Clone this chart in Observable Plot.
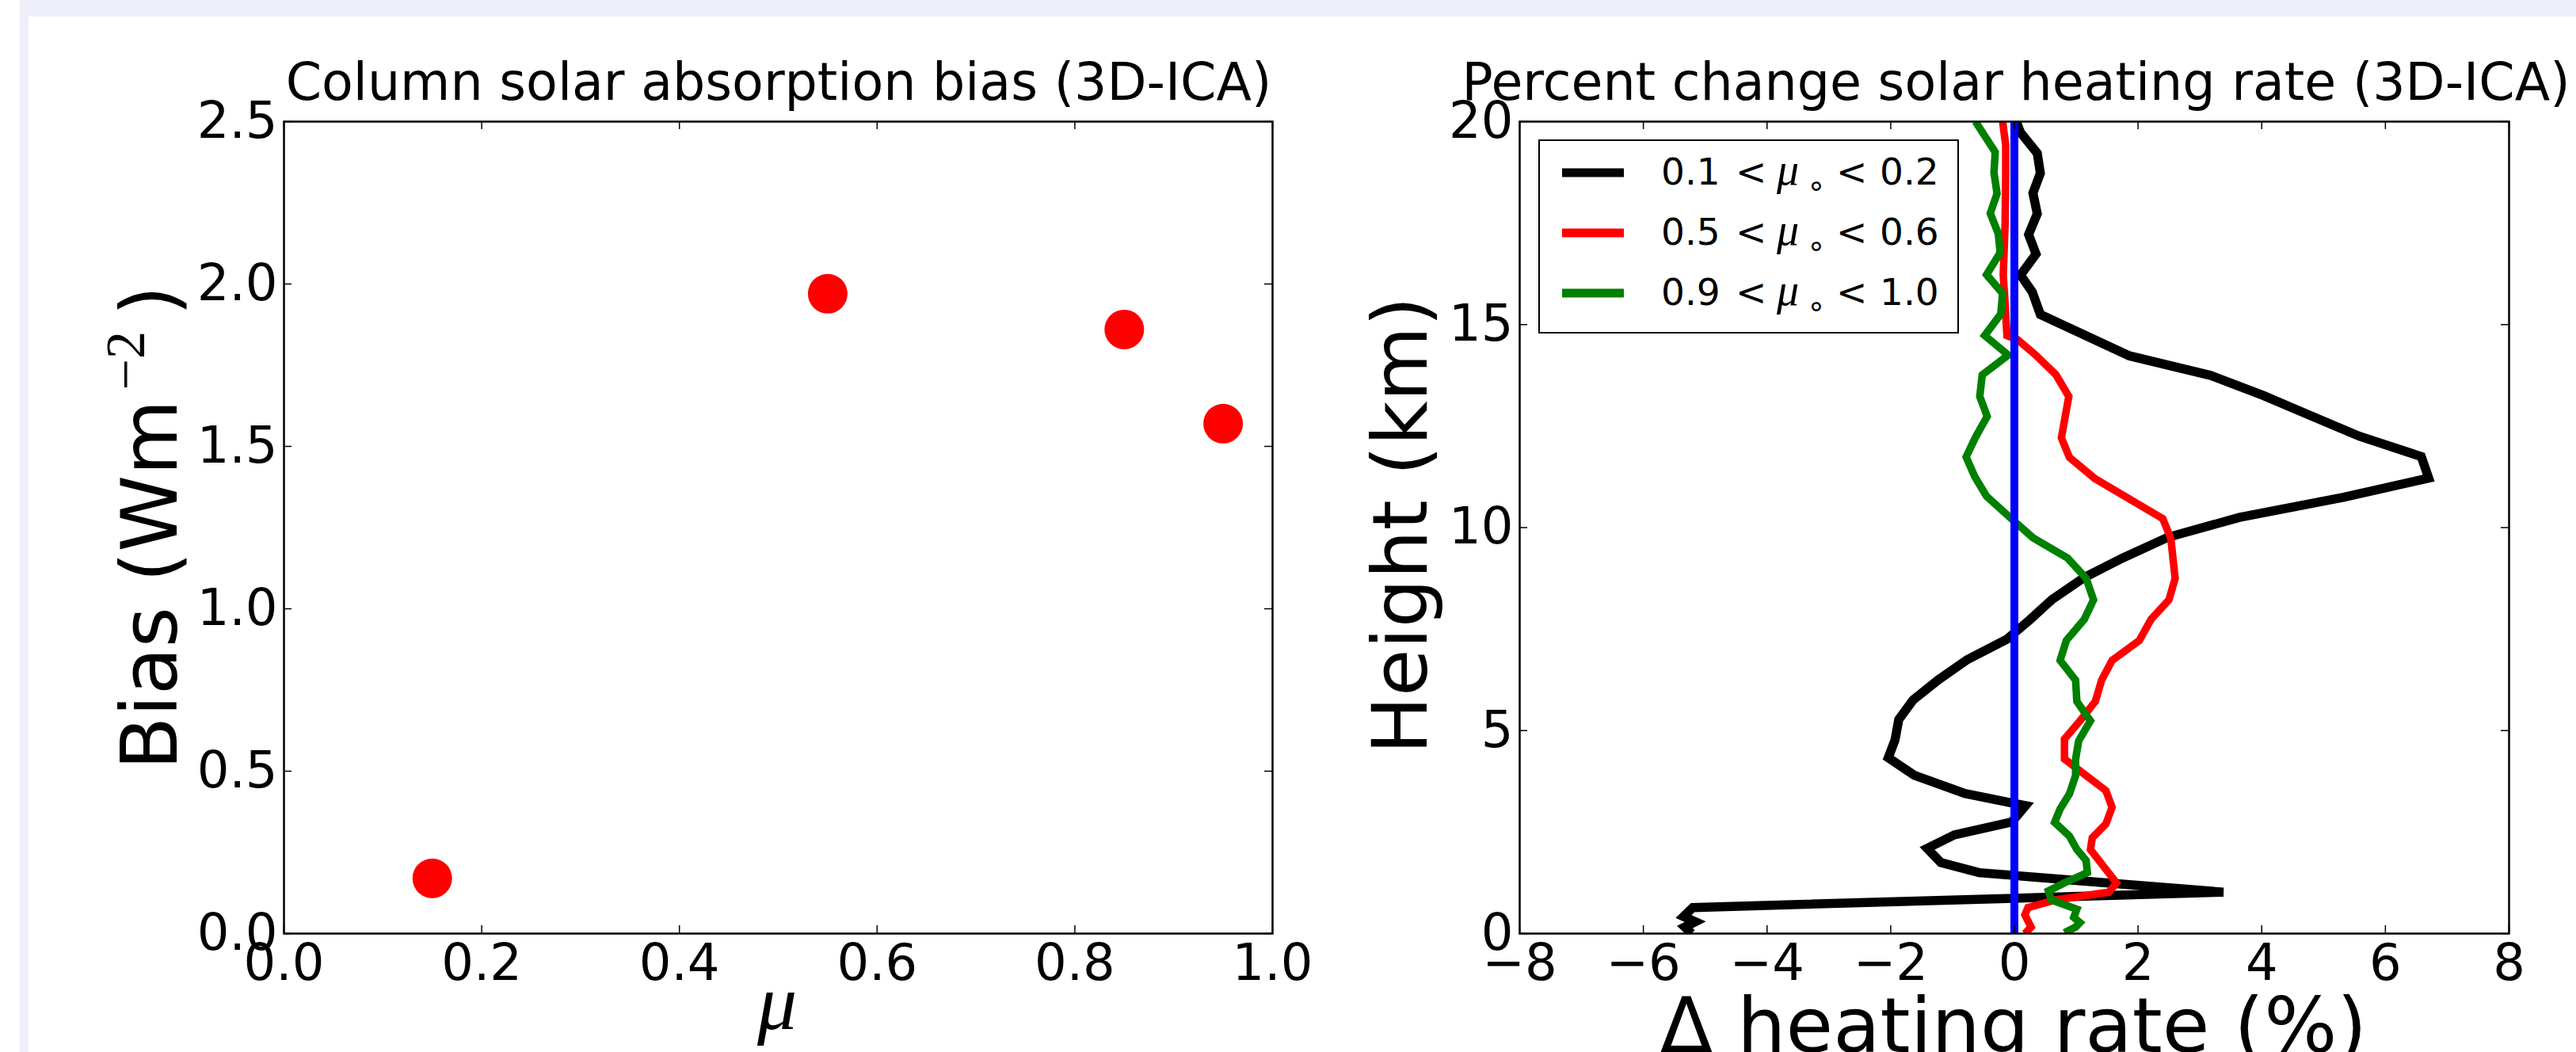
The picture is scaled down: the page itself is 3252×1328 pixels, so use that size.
<!DOCTYPE html>
<html>
<head>
<meta charset="utf-8">
<script src="https://cdn.jsdelivr.net/npm/d3@7"></script>
<script src="https://cdn.jsdelivr.net/npm/@observablehq/plot@0.6"></script>
<style>
  html, body { margin: 0; padding: 0; background: #ffffff; }
  #fig { position: relative; width: 3252px; height: 1328px; overflow: hidden; background: #ffffff; font-family: "DejaVu Sans", sans-serif; }
  .band { position: absolute; background: #efeffa; }
</style>
</head>
<body>
<div id="fig">
  <div class="band" style="left:25px;top:0;width:11px;height:1328px;"></div>
  <div class="band" style="left:25px;top:0;width:3227px;height:21px;"></div>
</div>
<script>
// ---------------- data ----------------
// Left panel: column solar absorption bias vs mu
const muValues   = [0.15, 0.55, 0.85, 0.95];
const biasValues = [0.17, 1.97, 1.86, 1.57];
const leftXTicks = [0.0, 0.2, 0.4, 0.6, 0.8, 1.0];
const leftYTicks = [0.0, 0.5, 1.0, 1.5, 2.0, 2.5];

// Right panel: percent change in solar heating rate vs height
const rightXTicks = [-8, -6, -4, -2, 0, 2, 4, 6, 8];
const rightYTicks = [0, 5, 10, 15, 20];

const blackHeight = [0.00, 0.16, 0.29, 0.42, 0.64, 1.02, 1.50, 1.75, 2.10, 2.43, 2.75, 3.15, 3.45, 3.90, 4.33, 4.77, 5.27, 5.75, 6.25, 6.75, 7.25, 7.73, 8.23, 8.77, 9.25, 9.76, 10.25, 10.75, 11.22, 11.75, 12.25, 12.75, 13.25, 13.75, 14.23, 15.25, 15.80, 16.22, 16.74, 17.22, 17.73, 18.24, 18.73, 19.22, 19.73, 20.00];
const blackDelta  = [-5.22, -5.33, -5.16, -5.35, -5.20, 3.38, -0.57, -1.19, -1.41, -0.97, -0.04, 0.18, -0.80, -1.62, -2.04, -1.93, -1.87, -1.64, -1.23, -0.76, -0.12, 0.25, 0.61, 1.13, 1.75, 2.48, 3.64, 5.33, 6.70, 6.58, 5.58, 4.80, 4.03, 3.17, 1.86, 0.42, 0.29, 0.10, 0.35, 0.23, 0.37, 0.30, 0.42, 0.37, 0.10, 0.03];

const redHeight = [0.00, 0.16, 0.46, 0.64, 0.83, 1.02, 1.25, 2.07, 2.36, 2.70, 3.11, 3.52, 4.30, 4.79, 5.24, 5.72, 6.24, 6.73, 7.22, 7.74, 8.22, 8.75, 9.73, 10.22, 11.21, 11.73, 12.21, 13.23, 13.77, 14.27, 14.63, 14.73, 15.75, 16.22, 17.50, 18.75, 19.41, 20.00];
const redDelta  = [0.17, 0.27, 0.17, 0.22, 0.67, 1.53, 1.65, 1.23, 1.26, 1.48, 1.58, 1.48, 0.81, 0.81, 1.06, 1.31, 1.41, 1.58, 2.02, 2.21, 2.50, 2.60, 2.53, 2.40, 1.30, 0.89, 0.76, 0.88, 0.67, 0.33, 0.05, -0.12, -0.16, -0.18, -0.15, -0.14, -0.14, -0.19];

const greenHeight = [0.02, 0.16, 0.27, 0.40, 0.60, 0.83, 1.05, 1.25, 1.50, 1.80, 2.07, 2.40, 2.74, 3.07, 3.44, 3.89, 4.30, 4.75, 5.24, 5.72, 6.24, 6.73, 7.22, 7.74, 8.22, 8.75, 9.25, 9.75, 10.25, 10.77, 11.25, 11.74, 12.22, 12.74, 13.23, 13.76, 14.25, 14.73, 15.26, 15.77, 16.23, 16.77, 17.24, 17.74, 18.23, 18.74, 19.25, 20.00];
const greenDelta  = [0.81, 0.99, 1.06, 0.96, 1.01, 0.60, 0.55, 0.81, 1.18, 1.16, 1.01, 0.89, 0.65, 0.74, 0.89, 0.99, 0.99, 1.04, 1.23, 1.01, 0.99, 0.74, 0.84, 1.13, 1.28, 1.16, 0.86, 0.30, -0.07, -0.45, -0.64, -0.78, -0.63, -0.44, -0.56, -0.52, -0.10, -0.48, -0.22, -0.19, -0.45, -0.23, -0.26, -0.39, -0.28, -0.33, -0.31, -0.63];

const blueHeight = [0, 20];
const blueDelta  = [0, 0];

const legendLabels = ["0.1", "0.2", "0.5", "0.6", "0.9", "1.0"];
const seriesColors = ["black", "red", "green"];

// ---------------- helpers ----------------
const fig = document.getElementById("fig");
function place(el, left, top) {
  el.style.position = "absolute";
  el.style.left = left + "px";
  el.style.top = top + "px";
  fig.appendChild(el);
}
const toRows = (hs, vs) => hs.map((h, i) => ({h, v: vs[i]}));
const TICK = 10;
const tickStyle = {stroke: "black", strokeWidth: 1.5};
const baseStyle = {background: "transparent", fontFamily: "DejaVu Sans", overflow: "visible", color: "black"};

// ---------------- left panel ----------------
const L = {w: 1650, h: 1328, ml: 358, mr: 44, mt: 153, mb: 150};
const LiW = L.w - L.ml - L.mr, LiH = L.h - L.mt - L.mb;
const biasRows = muValues.map((m, i) => ({mu: m, bias: biasValues[i]}));
const leftPlot = Plot.plot({
  width: L.w, height: L.h,
  marginLeft: L.ml, marginRight: L.mr, marginTop: L.mt, marginBottom: L.mb,
  x: {domain: [0, 1]},
  y: {domain: [0, 2.5]},
  style: baseStyle,
  marks: [
    Plot.dot(biasRows, {x: "mu", y: "bias", r: 25, fill: "red", stroke: "none"}),
    Plot.tickX(leftXTicks, {x: d => d, insetTop: LiH - TICK, ...tickStyle}),
    Plot.tickX(leftXTicks, {x: d => d, insetBottom: LiH - TICK, ...tickStyle}),
    Plot.tickY(leftYTicks, {y: d => d, insetRight: LiW - TICK, ...tickStyle}),
    Plot.tickY(leftYTicks, {y: d => d, insetLeft: LiW - TICK, ...tickStyle}),
    Plot.frame({stroke: "black", strokeWidth: 2.5}),
    Plot.axisX({anchor: "bottom", ticks: leftXTicks, tickSize: 0, tickPadding: 13, fontSize: 64, tickFormat: d3.format(".1f"), label: null}),
    Plot.axisY({anchor: "left", ticks: leftYTicks, tickSize: 0, tickPadding: 8, fontSize: 64, tickFormat: d3.format(".1f"), label: null})
  ]
});
place(leftPlot, 0, 0);

// ---------------- right panel ----------------
const R = {w: 1602, h: 1328, ml: 268, mr: 85, mt: 153, mb: 150};
const RiW = R.w - R.ml - R.mr, RiH = R.h - R.mt - R.mb;
const lineOpts = {x: "v", y: "h", clip: true, strokeLinejoin: "miter", strokeLinecap: "butt", strokeMiterlimit: 4};
const rightPlot = Plot.plot({
  width: R.w, height: R.h,
  marginLeft: R.ml, marginRight: R.mr, marginTop: R.mt, marginBottom: R.mb,
  x: {domain: [-8, 8]},
  y: {domain: [0, 20]},
  style: baseStyle,
  marks: [
    Plot.line(toRows(blackHeight, blackDelta), {...lineOpts, stroke: "black", strokeWidth: 11.5}),
    Plot.line(toRows(redHeight, redDelta), {...lineOpts, stroke: "#ff0000", strokeWidth: 9.5}),
    Plot.line(toRows(greenHeight, greenDelta), {...lineOpts, stroke: "#008000", strokeWidth: 9.5}),
    Plot.line(toRows(blueHeight, blueDelta), {...lineOpts, stroke: "#0000ff", strokeWidth: 10}),
    Plot.tickX(rightXTicks, {x: d => d, insetTop: RiH - TICK, ...tickStyle}),
    Plot.tickX(rightXTicks, {x: d => d, insetBottom: RiH - TICK, ...tickStyle}),
    Plot.tickY(rightYTicks, {y: d => d, insetRight: RiW - TICK, ...tickStyle}),
    Plot.tickY(rightYTicks, {y: d => d, insetLeft: RiW - TICK, ...tickStyle}),
    Plot.frame({stroke: "black", strokeWidth: 2.5}),
    Plot.axisX({anchor: "bottom", ticks: rightXTicks, tickSize: 0, tickPadding: 13, fontSize: 64, tickFormat: d3.format("d"), label: null}),
    Plot.axisY({anchor: "left", ticks: rightYTicks, tickSize: 0, tickPadding: 8, fontSize: 64, tickFormat: d3.format("d"), label: null})
  ]
});
place(rightPlot, 1650, 0);

// ---------------- titles, axis labels, legend ----------------
const ov = d3.create("svg")
  .attr("width", 3252).attr("height", 1328)
  .style("font-family", "DejaVu Sans")
  .style("pointer-events", "none");

// titles
ov.append("text").attr("x", 983).attr("y", 126).attr("text-anchor", "middle")
  .attr("font-size", 65).text("Column solar absorption bias (3D-ICA)");
ov.append("text").attr("x", 2545).attr("y", 126).attr("text-anchor", "middle")
  .attr("font-size", 65).text("Percent change solar heating rate (3D-ICA)");

// left y label
const yl = ov.append("text").attr("transform", "translate(223,666) rotate(-90)")
  .attr("text-anchor", "middle").attr("font-size", 98);
yl.append("tspan").text("Bias (Wm");
yl.append("tspan").attr("font-family", "Liberation Serif").attr("font-size", 70).attr("dx", 12).attr("dy", -41).text("\u22122");
yl.append("tspan").attr("dy", 41).text("\u2009)");

// left x label
ov.append("text").attr("x", 981).attr("y", 1299).attr("text-anchor", "middle")
  .attr("font-family", "Liberation Serif").attr("font-style", "italic").attr("font-size", 100).text("\u03bc");

// right y label
ov.append("text").attr("transform", "translate(1801,663) rotate(-90)")
  .attr("text-anchor", "middle").attr("font-size", 97).text("Height (km)");

// right x label
ov.append("text").attr("x", 2542).attr("y", 1328).attr("text-anchor", "middle")
  .attr("font-size", 97).text("\u0394 heating rate (%)");

// legend
ov.append("rect").attr("x", 1943).attr("y", 177).attr("width", 529).attr("height", 243)
  .attr("fill", "white").attr("stroke", "black").attr("stroke-width", 2);
seriesColors.forEach((c, i) => {
  const base = 233 + i * 76;
  ov.append("line").attr("x1", 1972).attr("x2", 2050).attr("y1", base - 15).attr("y2", base - 15)
    .attr("stroke", c).attr("stroke-width", 11);
  const g = ov.append("g").attr("font-size", 47);
  g.append("text").attr("x", 2097).attr("y", base).text(legendLabels[2 * i]);
  g.append("text").attr("x", 2191).attr("y", base).text("<");
  g.append("text").attr("x", 2243).attr("y", base).attr("font-family", "Liberation Serif")
    .attr("font-style", "italic").attr("font-size", 56).text("\u03bc");
  g.append("text").attr("x", 2281).attr("y", base + 14).attr("font-size", 38).text("\u2218");
  g.append("text").attr("x", 2318).attr("y", base).text("<");
  g.append("text").attr("x", 2373).attr("y", base).text(legendLabels[2 * i + 1]);
});

place(ov.node(), 0, 0);
</script>
</body>
</html>
